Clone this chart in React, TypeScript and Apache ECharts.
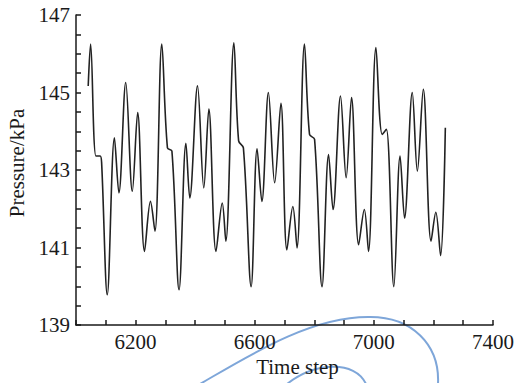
import React, { useEffect, useRef } from "react";
import * as echarts from "echarts";

const timeSteps = [
  6041, 6049, 6067, 6081, 6086, 6105, 6129, 6144, 6167, 6189, 6207, 6230, 6250, 6265,
  6288, 6307, 6322, 6346, 6369, 6382, 6408, 6429, 6446, 6470, 6491, 6503, 6530, 6546,
  6562, 6588, 6608, 6624, 6646, 6667, 6688, 6708, 6728, 6742, 6767, 6784, 6801, 6826,
  6848, 6863, 6888, 6907, 6925, 6949, 6968, 6982, 7007, 7028, 7042, 7067, 7088, 7103,
  7129, 7146, 7166, 7192, 7208, 7224, 7240,
];
const pressure = [
  145.17, 146.25, 143.36, 143.36, 143.19, 139.78, 143.83, 142.41, 145.26, 142.45, 144.48, 140.9, 142.19, 141.42,
  146.25, 143.57, 143.49, 139.91, 143.69, 142.28, 145.17, 142.54, 144.57, 140.9, 142.15, 141.16, 146.28, 143.75,
  143.57, 139.99, 143.55, 142.19, 145.0, 142.67, 144.72, 140.94, 142.06, 140.99, 146.25, 143.92, 143.79, 139.99,
  143.4, 141.98, 144.91, 142.8, 144.87, 141.07, 141.98, 140.9, 146.16, 143.92, 144.05, 139.99, 143.36, 141.76,
  145.0, 142.97, 145.08, 141.16, 141.91, 140.79, 144.09,
];
const xLabelValues = [6200, 6600, 7000, 7400];
const yLabelValues = [139, 141, 143, 145, 147];

const FONT = "'Liberation Serif', 'DejaVu Serif', serif";
const TEXT = "#1a1a1a";

export default function App() {
  const ref = useRef<HTMLDivElement>(null);
  useEffect(() => {
    document.body.style.margin = "0";
    if (!ref.current) return;
    const chart = echarts.init(ref.current, undefined, { renderer: "svg" });
    const data = timeSteps.map((t, i) => [t, pressure[i]]);
    const blue = "#7ea6d9";
    chart.setOption({
      animation: false,
      backgroundColor: "#ffffff",
      textStyle: { fontFamily: FONT, color: TEXT },
      grid: { left: 76, right: 24, top: 15, bottom: 58, outerBoundsMode: "none", containLabel: false },
      xAxis: {
        type: "value",
        min: 6000,
        max: 7400,
        interval: 100,
        name: "Time step",
        nameLocation: "middle",
        nameGap: 30,
        nameTextStyle: { fontFamily: FONT, fontSize: 21, color: TEXT, padding: [0, 0, 0, 26] },
        axisLine: { show: true, lineStyle: { color: TEXT, width: 1.5 } },
        axisTick: { show: true, inside: true, length: 5, lineStyle: { color: TEXT, width: 1.5 } },
        splitLine: { show: false },
        axisLabel: {
          fontFamily: FONT,
          fontSize: 21,
          color: TEXT,
          margin: 6,
          showMinLabel: true,
          showMaxLabel: true,
          formatter: (v: number) => (xLabelValues.includes(Math.round(v)) ? String(Math.round(v)) : ""),
        },
      },
      yAxis: {
        type: "value",
        min: 139,
        max: 147,
        interval: 0.5,
        name: "Pressure/kPa",
        nameLocation: "middle",
        nameGap: 48,
        nameRotate: 90,
        nameTextStyle: { fontFamily: FONT, fontSize: 21, color: TEXT, padding: [0, 0, 0, 14] },
        axisLine: { show: true, lineStyle: { color: TEXT, width: 1.5 } },
        axisTick: { show: true, inside: true, length: 5, lineStyle: { color: TEXT, width: 1.5 } },
        splitLine: { show: false },
        axisLabel: {
          fontFamily: FONT,
          fontSize: 21,
          color: TEXT,
          margin: 6,
          formatter: (v: number) => {
            const r = Math.round(v * 10) / 10;
            return yLabelValues.includes(r) ? String(r) : "";
          },
        },
      },
      series: [
        {
          type: "line",
          data,
          smooth: 0.35,
          showSymbol: false,
          lineStyle: { color: "#222", width: 1.6 },
        },
      ],
      graphic: [
        {
          type: "bezierCurve",
          silent: true,
          shape: { x1: 200, y1: 384, cpx1: 250, cpy1: 355, cpx2: 310, cpy2: 317, x2: 368, y2: 317 },
          style: { stroke: blue, lineWidth: 2, fill: "none" },
        },
        {
          type: "bezierCurve",
          silent: true,
          shape: { x1: 368, y1: 317, cpx1: 412, cpx2: 440, cpy1: 316, cpy2: 345, x2: 438, y2: 384 },
          style: { stroke: blue, lineWidth: 2, fill: "none" },
        },
        {
          type: "bezierCurve",
          silent: true,
          shape: { x1: 287, y1: 384, cpx1: 315, cpy1: 362, cpx2: 355, cpy2: 360, x2: 366, y2: 384 },
          style: { stroke: blue, lineWidth: 2, fill: "none" },
        },
      ],
    });
    return () => chart.dispose();
  }, []);
  return <div ref={ref} style={{ width: 517, height: 383 }} />;
}
